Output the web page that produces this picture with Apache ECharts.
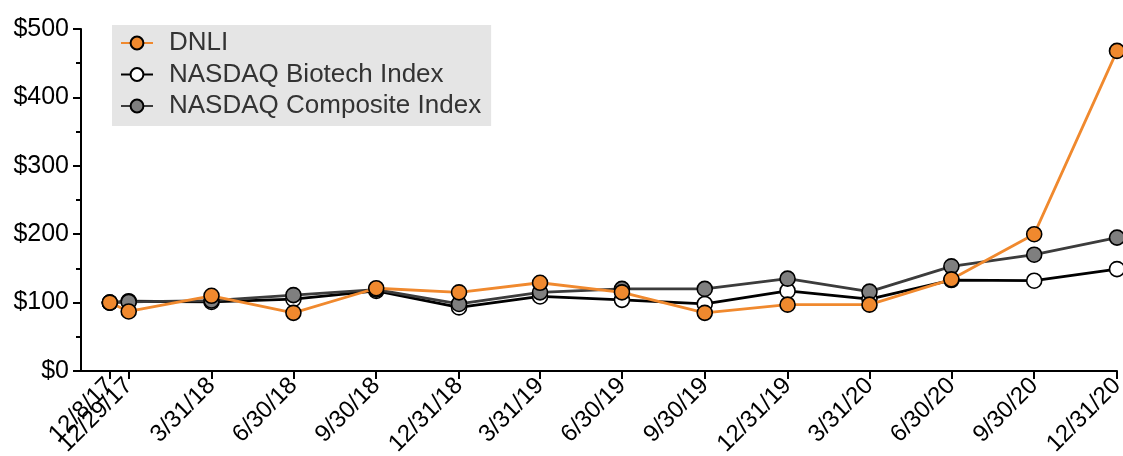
<!DOCTYPE html>
<html>
<head>
<meta charset="utf-8">
<script src="https://cdn.jsdelivr.net/npm/echarts@6/dist/echarts.min.js"></script>
<style>
html,body{margin:0;padding:0;background:#fff;}
#chart{width:1123px;height:456px;}
</style>
</head>
<body>
<div id="chart"></div>
<script>
// Tick labels / dates (m/d/yy)
var dateLabels = ['12/8/17','12/29/17','3/31/18','6/30/18','9/30/18','12/31/18','3/31/19','6/30/19','9/30/19','12/31/19','3/31/20','6/30/20','9/30/20','12/31/20'];
// Series values
var dnli      = [100, 87, 110, 85, 121, 115, 129, 115, 85, 97, 97, 134, 200, 468];
var biotech   = [100, 102, 101, 105, 117, 93, 109, 104, 98, 117, 105, 133, 132, 149];
var composite = [100, 101, 103, 111, 119, 98, 115, 120, 120, 135, 116, 153, 170, 195];
var yTicks = [0, 100, 200, 300, 400, 500];

// day number since epoch for each date label
function parseDay(s){
  var p = s.split('/');
  return Date.UTC(2000 + (+p[2]), (+p[0]) - 1, +p[1]) / 86400000;
}
var xDays = dateLabels.map(parseDay);
var labelByDay = {};
xDays.forEach(function(d, i){ labelByDay[d] = dateLabels[i]; });
// the two closely spaced first dates are put on separate axes so neither label is hidden
var daysMain = xDays.filter(function(d, i){ return i !== 1; });
var daysSecond = [xDays[1]];

function pairs(vals){ return vals.map(function(v, i){ return [xDays[i], v]; }); }

var font = '"Liberation Sans", Arial, Helvetica, sans-serif';
var chart = echarts.init(document.getElementById('chart'), null, {renderer: 'canvas'});

function mk(name, vals, lineColor, fillColor, z){
  return {
    name: name, type: 'line', data: pairs(vals), z: z,
    symbol: 'circle', symbolSize: 15,
    lineStyle: {color: lineColor, width: 2.8},
    itemStyle: {color: fillColor, borderColor: '#000', borderWidth: 1.6},
    emphasis: {disabled: true}
  };
}

function xAx(vals, showLine){
  return {
    type: 'value', position: 'bottom', offset: 0,
    min: xDays[0] - 32, max: xDays[xDays.length - 1],
    axisLine: {show: showLine, onZero: false, lineStyle: {color: '#000', width: 2}},
    axisTick: {show: true, length: 8, lineStyle: {color: '#000', width: 2}, customValues: vals},
    axisLabel: {
      customValues: vals, rotate: 45, margin: 11, hideOverlap: false, interval: 0,
      showMinLabel: true, showMaxLabel: true,
      fontSize: 24, color: '#000', fontFamily: font,
      formatter: function(v){ return labelByDay[Math.round(v)] || ''; }
    },
    splitLine: {show: false}
  };
}

chart.setOption({
  animation: false,
  grid: {left: 81, right: 6, top: 29, bottom: 85, containLabel: false, outerBoundsMode: 'none'},
  legend: {
    orient: 'vertical', left: 112, top: 25,
    data: ['DNLI', 'NASDAQ Biotech Index', 'NASDAQ Composite Index'],
    backgroundColor: '#e5e5e5',
    padding: [5, 10, 7, 8],
    itemGap: 5.5, itemWidth: 32, itemHeight: 16,
    textStyle: {fontSize: 26, color: '#333', fontFamily: font, padding: [0, 0, 0, 11]},
    selectedMode: false
  },
  xAxis: [xAx(daysMain, true), xAx(daysSecond, false)],
  yAxis: {
    type: 'value', min: yTicks[0], max: yTicks[yTicks.length - 1], interval: 100,
    axisLine: {show: true, onZero: false, lineStyle: {color: '#000', width: 2}},
    axisTick: {show: true, length: 8, lineStyle: {color: '#000', width: 2}},
    minorTick: {show: true, splitNumber: 2, length: 5, lineStyle: {color: '#000', width: 2}},
    axisLabel: {
      margin: 12, fontSize: 25, color: '#000', fontFamily: font,
      formatter: function(v){ return '$' + v; }
    },
    splitLine: {show: false}
  },
  series: [
    mk('NASDAQ Biotech Index', biotech, '#000000', '#ffffff', 2),
    mk('NASDAQ Composite Index', composite, '#3c3c3c', '#7f7f7f', 3),
    mk('DNLI', dnli, '#f0892e', '#f0892e', 4)
  ]
});
</script>
</body>
</html>
